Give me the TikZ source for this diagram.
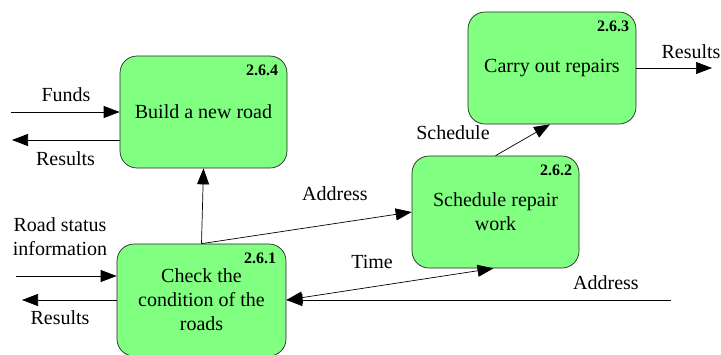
\documentclass[tikz,border=0pt]{standalone}
\usepackage{fontspec}
\setmainfont{Liberation Serif}
\usetikzlibrary{arrows.meta}
\definecolor{procgreen}{RGB}{128,255,128}
\begin{document}
\begin{tikzpicture}[x=1pt,y=-1pt,
  proc/.style={draw=black!85, fill=procgreen, rounded corners=17pt,
    minimum width=167pt, minimum height=112pt, align=center, inner sep=0pt,
    line width=0.7pt, font=\rmfamily\fontsize{20}{24}\selectfont},
  num/.style={font=\rmfamily\fontsize{16}{18}\selectfont\bfseries, inner sep=0pt, anchor=north east},
  lbl/.style={font=\rmfamily\fontsize{20}{24}\selectfont, inner sep=0pt, align=center},
  flow/.style={-{Triangle[length=16pt,width=12pt]}, line width=0.7pt},
  twoway/.style={{Triangle[length=16pt,width=12pt]}-{Triangle[length=16pt,width=12pt]}, line width=0.7pt},
]
\useasboundingbox (0,0) rectangle (721,354);

% processes
\node[proc] (b264) at (203.5,112) {Build a new road};
\node[proc, minimum width=168pt] (b263) at (552,68) {Carry out repairs};
\node[proc] (b262) at (495.5,212) {Schedule repair\\work};
\node[proc, minimum width=169pt] (b261) at (201.5,300) {Check the\\condition of the\\roads};

% process numbers
\node[num] (n264) at ([xshift=-9pt,yshift=-9pt]b264.north east) {2.6.4};
\node[num] (n263) at ([xshift=-7pt,yshift=-9pt]b263.north east) {2.6.3};
\node[num] (n262) at ([xshift=-7pt,yshift=-9pt]b262.north east) {2.6.2};
\node[num] (n261) at ([xshift=-10pt,yshift=-9pt]b261.north east) {2.6.1};

% free ends of external flows
\coordinate (fundsIn) at (11,112);
\coordinate (resA) at (12,140);
\coordinate (roadIn) at (16,276);
\coordinate (resB) at (22,300);
\coordinate (resC) at (712,68);
\coordinate (addrIn) at (671,300);

% flows
\draw[flow] (fundsIn) -- (b264.west);
\draw[flow] (b264.west |- resA) -- (resA);
\draw[flow] (roadIn) -- (roadIn -| b261.west);
\draw[flow] (b261.west) -- (resB);
\draw[flow] (b261.north) -- (b264.south);
\draw[flow] (b261.north) -- (b262.west);
\draw[twoway] (b261.east) -- ([xshift=-2pt]b262.south);
\draw[flow] (addrIn) -- (b261.east);
\draw[flow] (b262.north) -- ([xshift=-2pt]b263.south);
\draw[flow] (b263.east) -- (resC);

% flow labels
\node[lbl] (lFunds) at (66,95) {Funds};
\node[lbl] (lResA) at (65.5,159) {Results};
\node[lbl] (lRoad) at (60,236.5) {Road status\\information};
\node[lbl] (lResB) at (60,318) {Results};
\node[lbl] (lAddrA) at (335,194) {Address};
\node[lbl] (lTime) at (372,262) {Time};
\node[lbl] (lAddrB) at (606,283) {Address};
\node[lbl] (lSched) at (453,133) {Schedule};
\node[lbl] (lResC) at (691,52) {Results};
\end{tikzpicture}
\end{document}
